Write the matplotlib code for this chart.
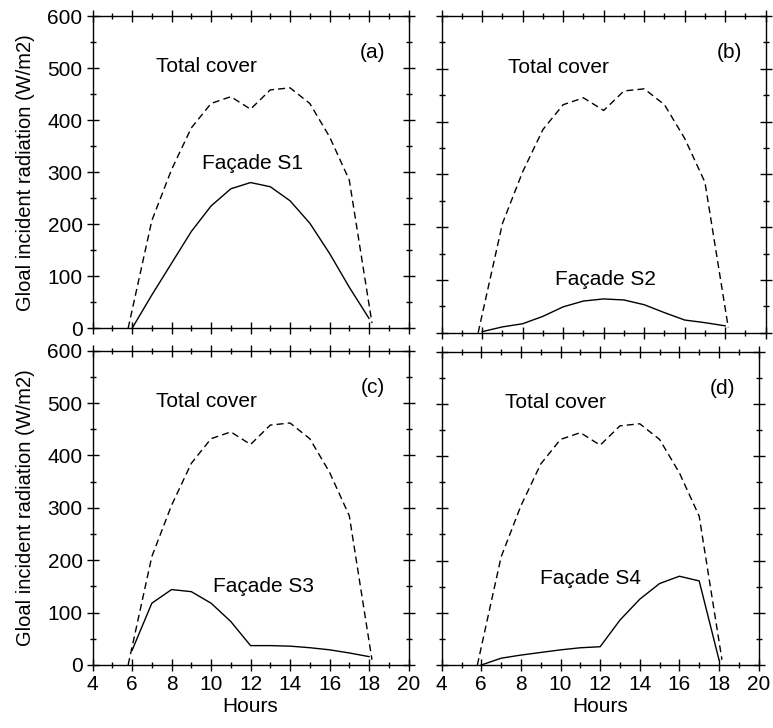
import matplotlib
matplotlib.use('Agg')
import matplotlib.pyplot as plt
from matplotlib.ticker import MultipleLocator

plt.rcParams['font.family'] = ['Liberation Sans', 'DejaVu Sans']
plt.rcParams['font.size'] = 15

# Total cover (dashed, same in each panel)
total_hours = [5.8, 7, 8, 9, 10, 11, 12, 13, 14, 15, 16, 17, 18.15]
total_rad = [0, 207, 305, 385, 432, 445, 421, 458, 462, 432, 368, 285, 10]

# Facades (solid)
s1_hours = [6, 7, 8, 9, 10, 11, 12, 13, 14, 15, 16, 17, 18]
s1_rad = [0, 64, 125, 186, 235, 268, 280, 272, 245, 202, 144, 79, 19]

s2_hours = [6, 7, 8, 9, 10, 11, 12, 13, 14, 15, 16, 17, 18]
s2_rad = [2, 11, 17, 31, 49, 60, 64, 62, 53, 38, 24, 19, 13]

s3_hours = [6, 7, 8, 9, 10, 11, 12, 13, 14, 15, 16, 17, 18]
s3_rad = [28, 118, 144, 140, 118, 83, 37, 37, 36, 33, 29, 23, 16]

s4_hours = [6, 7, 8, 9, 10, 11, 12, 13, 14, 15, 16, 17, 18]
s4_rad = [0, 13, 19, 24, 29, 33, 35, 86, 126, 156, 170, 161, 10]

panels = [
    ('(a)', 'Façade S1', s1_hours, s1_rad, (12.1, 317)),
    ('(b)', 'Façade S2', s2_hours, s2_rad, (12.1, 100)),
    ('(c)', 'Façade S3', s3_hours, s3_rad, (12.65, 150)),
    ('(d)', 'Façade S4', s4_hours, s4_rad, (11.5, 166)),
]

W, H = 773, 728
# axes boxes in pixels: left, top, right, bottom
boxes = [
    (92.6, 16, 408.5, 328.3),
    (441.7, 16, 765.7, 332.7),
    (92.6, 350.7, 408.5, 665),
    (441.7, 351.7, 758.6, 665),
]

fig = plt.figure(figsize=(W / 100, H / 100), dpi=100)

for i, ((tag, label, hrs, rad, lpos), (l, t, r, b)) in enumerate(zip(panels, boxes)):
    ax = fig.add_axes([l / W, 1 - b / H, (r - l) / W, (b - t) / H])
    ax.plot(total_hours, total_rad, color='black', lw=1.0, dashes=(5, 3))
    ax.plot(hrs, rad, color='black', lw=1.0)
    ax.set_xlim(4, 20)
    ax.set_ylim(0, 600)
    ax.xaxis.set_major_locator(MultipleLocator(2))
    ax.xaxis.set_minor_locator(MultipleLocator(1))
    ax.yaxis.set_major_locator(MultipleLocator(100))
    ax.yaxis.set_minor_locator(MultipleLocator(50))
    ax.tick_params(which='both', direction='inout', top=True, right=True,
                   width=1.0, labelsize=15, pad=3)
    ax.tick_params(which='major', length=8.5)
    ax.tick_params(which='minor', length=4)
    for s in ax.spines.values():
        s.set_linewidth(1.0)

    ax.text(9.75, 503, 'Total cover', ha='center', va='center', fontsize=15)
    ax.text(lpos[0], lpos[1], label, ha='center', va='center', fontsize=15)
    ax.text(18.2, 530, tag, ha='center', va='center', fontsize=15)

    if i % 2 == 0:
        ax.set_ylabel('Gloal incident radiation (W/m2)', fontsize=14.5, labelpad=9)
    else:
        ax.tick_params(labelleft=False)
    if i >= 2:
        ax.set_xlabel('Hours', fontsize=15, labelpad=2)
    else:
        ax.tick_params(labelbottom=False)

fig.savefig('out.png', dpi=100)
